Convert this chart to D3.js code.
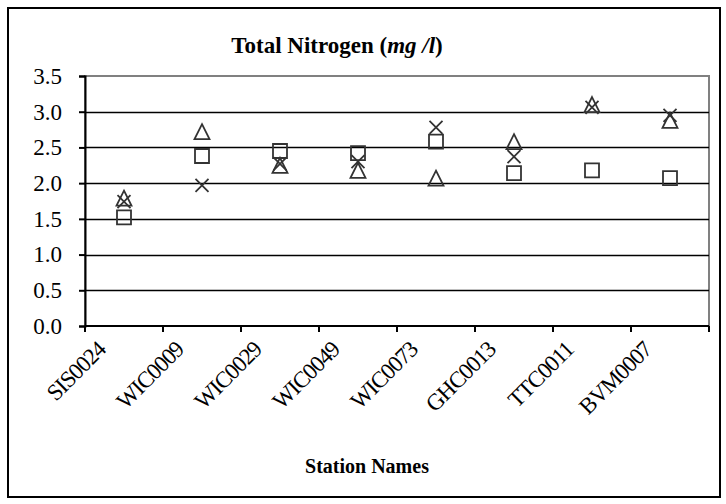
<!DOCTYPE html>
<html lang="en">
<head>
  <meta charset="UTF-8">
  <title>Total Nitrogen</title>
  <script src="https://d3js.org/d3.v7.min.js"></script>
  <style>
    body { margin: 0; background: #fff; }
    text { font-family: 'Liberation Serif', 'Times New Roman', serif; fill: #000; }
    .title { font-size: 23px; font-weight: bold; text-anchor: middle; }
    .axtitle { font-size: 20px; font-weight: bold; text-anchor: middle; }
    .ylab { font-size: 23px; text-anchor: end; }
    .xlab { font-size: 23px; text-anchor: end; letter-spacing: -1px; }
  </style>
</head>
<body>
  <svg width="726" height="504"></svg>

  <script>
    const stations = ["SIS0024", "WIC0009", "WIC0029", "WIC0049", "WIC0073", "GHC0013", "TTC0011", "BVM0007"];
    const squareVals = [1.52, 2.38, 2.45, 2.42, 2.58, 2.14, 2.18, 2.07];
    const triangleVals = [1.79, 2.72, 2.25, 2.18, 2.07, 2.58, 3.10, 2.88];
    const crossVals = [1.74, 1.97, 2.27, 2.30, 2.78, 2.37, 3.06, 2.95];
    const yTicks = [0, 0.5, 1.0, 1.5, 2.0, 2.5, 3.0, 3.5];

    const svg = d3.select("svg");
    const plotL = 85, plotR = 709, plotT = 76, plotB = 326;

    const x = d3.scaleBand().domain(stations).range([plotL, plotR]);
    const y = d3.scaleLinear().domain([0, 3.5]).range([plotB, plotT]);

    // chart border
    svg.append("rect")
      .attr("x", 8).attr("y", 8).attr("width", 712).attr("height", 489)
      .attr("fill", "none").attr("stroke", "#000").attr("stroke-width", 2);

    // title
    const title = svg.append("text").attr("class", "title").attr("x", 337).attr("y", 53);
    title.append("tspan").text("Total Nitrogen (");
    title.append("tspan").style("font-style", "italic").text("mg /l");
    title.append("tspan").text(")");

    // plot area outline (top/right grey)
    svg.append("rect")
      .attr("x", plotL).attr("y", plotT).attr("width", plotR - plotL).attr("height", plotB - plotT)
      .attr("fill", "none").attr("stroke", "#808080").attr("stroke-width", 2);

    // gridlines
    svg.append("g").selectAll("line")
      .data(yTicks.filter(d => d > 0 && d < 3.5))
      .enter().append("line")
        .attr("x1", plotL).attr("x2", plotR)
        .attr("y1", d => Math.round(y(d)) + 0.5).attr("y2", d => Math.round(y(d)) + 0.5)
        .attr("stroke", "#000").attr("stroke-width", 1.5);

    // y axis
    const yAxis = svg.append("g")
      .attr("transform", `translate(${plotL},0)`)
      .call(d3.axisLeft(y).tickValues(yTicks).tickFormat(d3.format(".1f")).tickSize(6).tickPadding(17));
    yAxis.select(".domain").attr("stroke", "#000").attr("stroke-width", 2);
    yAxis.selectAll(".tick line").attr("stroke", "#000").attr("stroke-width", 2);
    yAxis.selectAll(".tick text").attr("class", "ylab");
    yAxis.attr("font-size", null).attr("font-family", null);

    // x axis with ticks at category boundaries
    svg.append("line")
      .attr("x1", plotL).attr("x2", plotR).attr("y1", plotB).attr("y2", plotB)
      .attr("stroke", "#000").attr("stroke-width", 2);
    const bounds = stations.map(s => x(s)).concat([x.range()[1]]);
    svg.append("g").selectAll("line")
      .data(bounds)
      .enter().append("line")
        .attr("x1", d => d).attr("x2", d => d)
        .attr("y1", plotB).attr("y2", plotB + 6)
        .attr("stroke", "#000").attr("stroke-width", 2);

    // x labels
    svg.append("g").selectAll("text")
      .data(stations)
      .enter().append("text")
        .attr("class", "xlab")
        .attr("transform", d => `translate(${x(d) + x.bandwidth() / 2 - 17},${plotB + 25}) rotate(-45)`)
        .text(d => d);

    // axis title
    svg.append("text").attr("class", "axtitle").attr("x", 367).attr("y", 473).text("Station Names");

    // markers
    const mk = "#333";
    const sq = 7, tr = 7.5, cr = 6.5;

    svg.append("g").selectAll("path")
      .data(squareVals)
      .enter().append("path")
        .attr("d", (d, i) => {
          const cx = x(stations[i]) + x.bandwidth() / 2, cy = y(d);
          return `M${cx - sq},${cy - sq}H${cx + sq}V${cy + sq}H${cx - sq}Z`;
        })
        .attr("fill", "none").attr("stroke", mk).attr("stroke-width", 1.8);

    svg.append("g").selectAll("path")
      .data(triangleVals)
      .enter().append("path")
        .attr("d", (d, i) => {
          const cx = x(stations[i]) + x.bandwidth() / 2, cy = y(d);
          return `M${cx},${cy - tr}L${cx + tr},${cy + tr}L${cx - tr},${cy + tr}Z`;
        })
        .attr("fill", "none").attr("stroke", mk).attr("stroke-width", 1.8);

    svg.append("g").selectAll("path")
      .data(crossVals)
      .enter().append("path")
        .attr("d", (d, i) => {
          const cx = x(stations[i]) + x.bandwidth() / 2, cy = y(d);
          return `M${cx - cr},${cy - cr}L${cx + cr},${cy + cr}M${cx + cr},${cy - cr}L${cx - cr},${cy + cr}`;
        })
        .attr("fill", "none").attr("stroke", mk).attr("stroke-width", 1.8);
  </script>
</body>
</html>
